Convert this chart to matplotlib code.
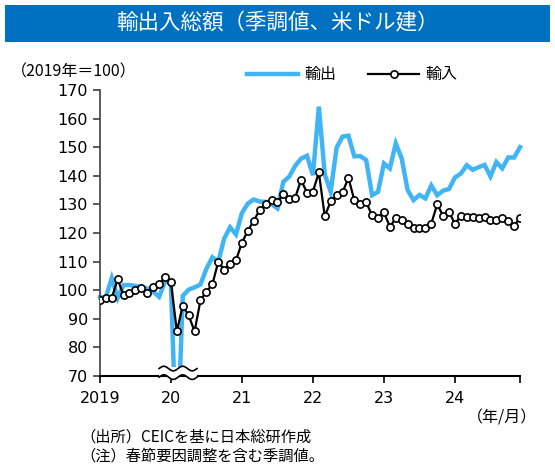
import numpy as np
import matplotlib.pyplot as plt
from matplotlib.patches import Rectangle, Polygon
from matplotlib.lines import Line2D

plt.rcParams['font.family'] = ['Noto Sans CJK JP', 'DejaVu Sans']

# 月次指数（2019年＝100）、2019年1月～2024年12月
exports = [97.5, 97.5, 104.2, 97.3, 101.8, 101.8, 101.5, 101.0, 100.6, 99.5, 97.7, 103.0,
           102.5, 40.0, 98.0, 100.2, 101.0, 102.0, 107.5, 111.5, 110.0, 118.0, 122.0, 119.5,
           127.0, 130.3, 131.7, 131.0, 130.9, 130.1, 128.6, 137.9, 139.7, 143.5, 146.0, 147.0,
           140.2, 164.2, 140.5, 134.4, 149.8, 153.7, 154.0, 146.8, 146.9, 145.5, 133.2, 134.4,
           144.3, 142.6, 151.3, 146.1, 135.0, 131.5, 133.3, 132.1, 136.6, 133.2, 134.8, 135.4,
           139.4, 140.8, 143.7, 142.1, 143.0, 143.8, 139.8, 144.8, 142.6, 146.4, 146.4, 150.0]
imports = [96.5, 97.4, 97.3, 103.8, 98.2, 99.0, 99.9, 100.9, 99.0, 101.0, 102.0, 104.5,
           102.9, 85.6, 94.5, 91.2, 85.6, 96.5, 99.5, 102.0, 109.9, 107.2, 109.3, 110.5,
           116.6, 120.8, 124.3, 128.0, 130.1, 131.7, 130.8, 133.6, 131.8, 132.4, 138.5, 134.1,
           134.5, 141.2, 125.8, 131.1, 133.2, 134.2, 139.3, 131.4, 130.2, 130.7, 126.2, 125.1,
           127.2, 122.2, 125.1, 124.5, 123.1, 121.8, 121.7, 121.8, 123.3, 130.0, 126.0, 127.5,
           123.1, 126.1, 125.6, 125.7, 125.2, 125.6, 124.5, 124.7, 125.3, 124.3, 122.5, 125.3]
year_labels = ['2019', '20', '21', '22', '23', '24', '']
y_ticks = [70, 80, 90, 100, 110, 120, 130, 140, 150, 160, 170]

x = np.arange(len(exports))
blue = '#41B4F5'

fig = plt.figure(figsize=(5.55, 4.65), dpi=100)
ax = fig.add_axes([0.18, 0.1914, 0.757, 0.6151])

# 輸出（下端は70付近で切る）
exp_line, = ax.plot(x, exports, color=blue, lw=3.2, solid_joinstyle='miter', zorder=2)
exp_line.set_clip_path(Rectangle((-5, 73.2), 100, 200, transform=ax.transData))

# 輸入
ax.plot(x, imports, color='black', lw=1.6, marker='o', markersize=5.2,
        markerfacecolor='white', markeredgecolor='black', markeredgewidth=1.2, zorder=3)

ax.set_xlim(0, 71)
ax.set_ylim(70, 170)
ax.set_yticks(y_ticks)
ax.set_xticks([0, 12, 24, 36, 48, 60, 71])
ax.set_xticklabels(year_labels)
ax.tick_params(axis='both', labelsize=11.5, direction='out', length=5, width=1.2)
ax.tick_params(axis='y', colors='#404040', labelcolor='black')
ax.tick_params(axis='x', pad=6)
for lab in ax.get_xticklabels() + ax.get_yticklabels():
    lab.set_family('DejaVu Sans')
for s in ['top', 'right']:
    ax.spines[s].set_visible(False)
ax.spines['left'].set_color('#404040')
ax.spines['left'].set_linewidth(1.2)
ax.spines['bottom'].set_linewidth(1.5)

# 軸の省略記号（波線）
t = np.linspace(0, 1, 60)
bx = 10.0 + 6.4 * t
wave = 0.008 * np.sin(2 * np.pi * 2 * t)
upper = 0.026 + wave
lower = -0.004 + wave
trans = ax.get_xaxis_transform()
poly = np.vstack([np.column_stack([bx, upper]), np.column_stack([bx[::-1], lower[::-1]])])
ax.add_patch(Polygon(poly, closed=True, facecolor='white', edgecolor='none',
                     transform=trans, clip_on=False, zorder=4))
ax.plot(bx, upper, color='black', lw=1.2, transform=trans, clip_on=False, zorder=5)
ax.plot(bx, lower, color='black', lw=1.2, transform=trans, clip_on=False, zorder=5)

# 凡例
handles = [Line2D([], [], color=blue, lw=3.2),
           Line2D([], [], color='black', lw=1.6, marker='o', markersize=5.2,
                  markerfacecolor='white', markeredgewidth=1.2)]
ax.legend(handles, ['輸出', '輸入'], ncol=2, loc='center', bbox_to_anchor=(0.6, 1.053),
          frameon=False, fontsize=11.5, handlelength=3.2, columnspacing=2.0,
          handletextpad=0.4, numpoints=1)

# タイトル帯
fig.patches.append(Rectangle((5 / 555, 1 - 42 / 465), 545 / 555, 37 / 465,
                             transform=fig.transFigure, facecolor='#0070C0',
                             edgecolor='none'))
fig.text(0.5, 1 - 23.5 / 465, '輸出入総額（季調値、米ドル建）', color='white',
         fontsize=15.5, ha='center', va='center')

fig.text(11 / 555, 1 - 72 / 465, '（2019年＝100）', fontsize=11.5, ha='left', va='center')
fig.text(537 / 555, 1 - 418 / 465, '（年/月）', fontsize=11.5, ha='right', va='center')
fig.text(80 / 555, 1 - 437 / 465, '（出所）CEICを基に日本総研作成', fontsize=11, ha='left', va='center')
fig.text(80 / 555, 1 - 456 / 465, '（注）春節要因調整を含む季調値。', fontsize=11, ha='left', va='center')

fig.savefig('out.png', dpi=100)
